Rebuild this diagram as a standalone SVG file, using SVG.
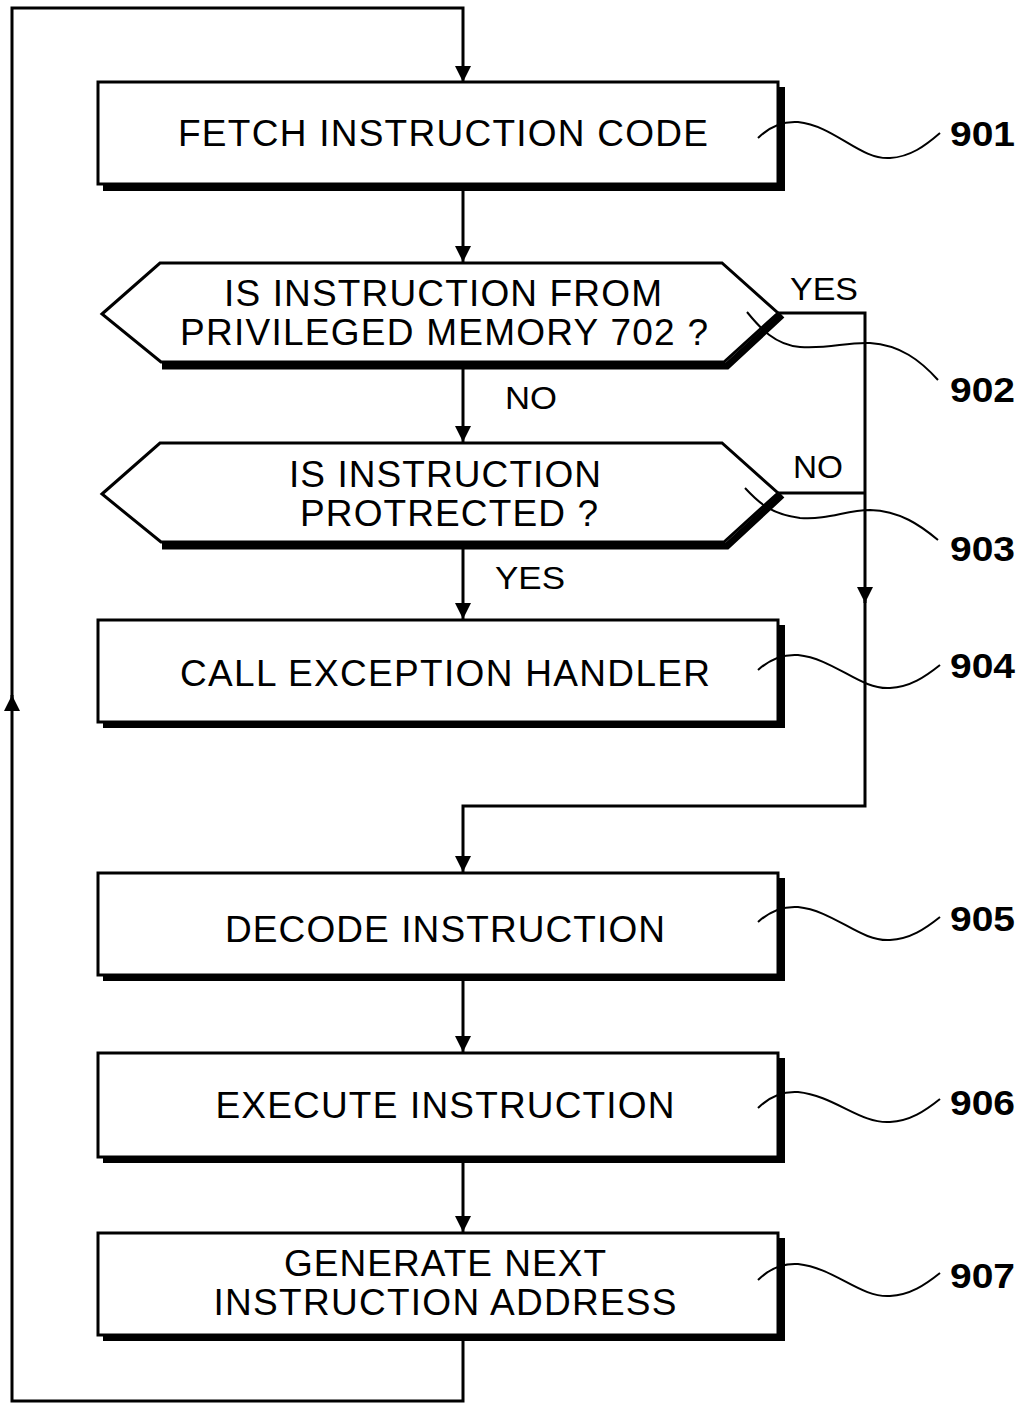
<svg xmlns="http://www.w3.org/2000/svg" width="1022" height="1403" viewBox="0 0 1022 1403">
<style>
.bg{fill:#fff}
.box{fill:#fff;stroke:#000;stroke-width:3}
.sh{fill:#000}
.shl{fill:none;stroke:#000;stroke-width:7;stroke-linejoin:miter}
.t{font-family:"Liberation Sans",Arial,sans-serif;font-size:37px;fill:#000;text-anchor:middle}
.lb{font-family:"Liberation Sans",Arial,sans-serif;font-size:32px;fill:#000}
.ref{font-family:"Liberation Sans",Arial,sans-serif;font-size:35px;font-weight:bold;fill:#000}
.ld{fill:none;stroke:#000;stroke-width:2}
.cn{fill:none;stroke:#000;stroke-width:3}
</style>
<defs>
<marker id="ah" viewBox="0 0 16 16" refX="16" refY="8" markerWidth="16" markerHeight="16" markerUnits="userSpaceOnUse" orient="auto">
<path d="M0,0 L16,8 L0,16 z" fill="#000"/>
</marker>
</defs>
<rect class="bg" x="0" y="0" width="1022" height="1403"/>

<g id="connectors">
<path class="cn" d="M463,186 L463,262" marker-end="url(#ah)"/>
<path class="cn" d="M463,367 L463,442" marker-end="url(#ah)"/>
<path class="cn" d="M463,547 L463,619" marker-end="url(#ah)"/>
<path class="cn" d="M778,313 L865,313 L865,603" marker-end="url(#ah)"/>
<path class="cn" d="M778,493 L865,493"/>
<path class="cn" d="M865,600 L865,806 L463,806 L463,872" marker-end="url(#ah)"/>
<path class="cn" d="M463,978 L463,1052" marker-end="url(#ah)"/>
<path class="cn" d="M463,1160 L463,1232" marker-end="url(#ah)"/>
<path class="cn" d="M463,1338 L463,1401 L12,1401 L12,695" marker-end="url(#ah)"/>
<path class="cn" d="M12,700 L12,8 L463,8 L463,82" marker-end="url(#ah)"/>
<text class="lb" x="790" y="300" textLength="68" lengthAdjust="spacingAndGlyphs">YES</text>
<text class="lb" x="505" y="409" textLength="52" lengthAdjust="spacingAndGlyphs">NO</text>
<text class="lb" x="793" y="478" textLength="50" lengthAdjust="spacingAndGlyphs">NO</text>
<text class="lb" x="495" y="589" textLength="70" lengthAdjust="spacingAndGlyphs">YES</text>
</g>

<g id="n901">
<rect class="sh" x="103" y="87" width="682" height="104"/>
<rect class="box" x="98" y="82" width="680" height="102"/>
<text class="t" x="443" y="146" textLength="530" lengthAdjust="spacing">FETCH INSTRUCTION CODE</text>
<path class="ld" d="M758,138 C770,126 782,121 798,122 C835,126 860,160 890,158 C910,157 925,146 940,133"/>
<text class="ref" x="950" y="146" textLength="65" lengthAdjust="spacingAndGlyphs">901</text>
</g>

<g id="n902">
<polyline class="shl" points="782,315 727,366 162,366"/>
<polygon class="box" points="102,314 160,263 722,263 778,313 724,362 161,362"/>
<text class="t" x="443" y="306" textLength="438" lengthAdjust="spacing">IS INSTRUCTION FROM</text>
<text class="t" x="444" y="345" textLength="528" lengthAdjust="spacing">PRIVILEGED MEMORY 702 ?</text>
<path class="ld" d="M747,312 C760,328 775,345 800,347 C830,349 845,342 870,343 C900,345 920,360 938,380"/>
<text class="ref" x="950" y="402" textLength="65" lengthAdjust="spacingAndGlyphs">902</text>
</g>

<g id="n903">
<polyline class="shl" points="782,495 727,546 162,546"/>
<polygon class="box" points="102,494 160,443 722,443 778,493 724,542 161,542"/>
<text class="t" x="445" y="487" textLength="312" lengthAdjust="spacing">IS INSTRUCTION</text>
<text class="t" x="449" y="526" textLength="298" lengthAdjust="spacing">PROTRECTED ?</text>
<path class="ld" d="M745,488 C758,502 770,514 800,518 C830,520 845,510 870,510 C900,511 920,525 938,540"/>
<text class="ref" x="950" y="561" textLength="65" lengthAdjust="spacingAndGlyphs">903</text>
</g>

<g id="n904">
<rect class="sh" x="103" y="625" width="682" height="103"/>
<rect class="box" x="98" y="620" width="680" height="102"/>
<text class="t" x="445" y="686" textLength="530" lengthAdjust="spacing">CALL EXCEPTION HANDLER</text>
<path class="ld" d="M758,670 C770,659 782,654 798,655 C835,659 860,690 890,688 C910,687 925,677 940,665"/>
<text class="ref" x="950" y="678" textLength="65" lengthAdjust="spacingAndGlyphs">904</text>
</g>

<g id="n905">
<rect class="sh" x="103" y="878" width="682" height="103"/>
<rect class="box" x="98" y="873" width="680" height="102"/>
<text class="t" x="445" y="942" textLength="440" lengthAdjust="spacing">DECODE INSTRUCTION</text>
<path class="ld" d="M758,922 C770,911 782,906 798,907 C835,911 860,942 890,940 C910,939 925,929 940,917"/>
<text class="ref" x="950" y="931" textLength="65" lengthAdjust="spacingAndGlyphs">905</text>
</g>

<g id="n906">
<rect class="sh" x="103" y="1058" width="682" height="105"/>
<rect class="box" x="98" y="1053" width="680" height="104"/>
<text class="t" x="445" y="1118" textLength="459" lengthAdjust="spacing">EXECUTE INSTRUCTION</text>
<path class="ld" d="M758,1108 C770,1096 782,1091 798,1092 C835,1096 860,1124 890,1122 C910,1121 925,1111 940,1099"/>
<text class="ref" x="950" y="1115" textLength="65" lengthAdjust="spacingAndGlyphs">906</text>
</g>

<g id="n907">
<rect class="sh" x="103" y="1238" width="682" height="103"/>
<rect class="box" x="98" y="1233" width="680" height="102"/>
<text class="t" x="445" y="1276" textLength="322" lengthAdjust="spacing">GENERATE NEXT</text>
<text class="t" x="445" y="1315" textLength="463" lengthAdjust="spacing">INSTRUCTION ADDRESS</text>
<path class="ld" d="M758,1280 C770,1268 782,1263 798,1264 C835,1268 860,1298 890,1296 C910,1295 925,1285 940,1273"/>
<text class="ref" x="950" y="1288" textLength="65" lengthAdjust="spacingAndGlyphs">907</text>
</g>
</svg>
